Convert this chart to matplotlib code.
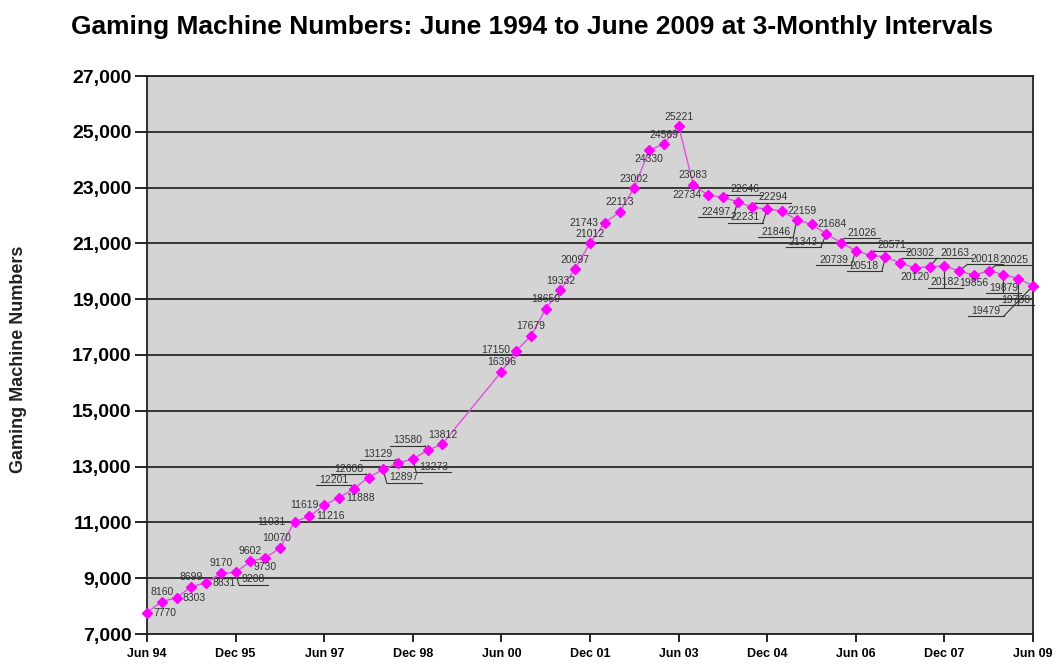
import numpy as np
import pandas as pd
import matplotlib
matplotlib.use('Agg')
import matplotlib.pyplot as plt
from matplotlib.ticker import FuncFormatter

plt.rcParams['font.family'] = ['Liberation Sans', 'DejaVu Sans']

# Quarterly gaming machine numbers, Jun 1994 - Jun 2009
# (Sep 99, Dec 99 and Mar 00 are not in the source chart)
quarters = pd.period_range('1994Q2', '2009Q2', freq='Q')
machines = [7770, 8160, 8303, 8699, 8831, 9170, 9208, 9602, 9730, 10070,
            11031, 11216, 11619, 11888, 12201, 12608, 12897, 13129, 13273, 13580,
            13812, None, None, None, 16396, 17150, 17679, 18650, 19332, 20097,
            21012, 21743, 22113, 23002, 24330, 24569, 25221, 23083, 22734, 22646,
            22497, 22294, 22231, 22159, 21846, 21684, 21343, 21026, 20739, 20571,
            20518, 20302, 20120, 20163, 20182, 20018, 19856, 20025, 19879, 19738,
            19479]

y_ticks = list(range(7000, 27001, 2000))

# label placement: text centre offset from the point in pixels (right, down),
# and whether Excel drew a leader line to it
label_pos = [(18, 0, 0), (0, -10, 0), (18, 0, 0), (0, -10, 0), (18, 0, 0),
             (0, -10, 0), (18, 7, 1), (0, -10, 0), (0, 9, 0), (-3, -10, 0),
             (-23, 0, 0), (21, 0, 0), (-20, 0, 0), (22, 0, 0), (-20, -9, 1),
             (-20, -9, 1), (21, 8, 1), (-20, -9, 1), (21, 8, 1), (-20, -10, 1),
             (0, -9, 0), None, None, None, (0, -10, 0),
             (-20, -1, 0), (0, -10, 0), (0, -10, 0), (0, -9, 0), (0, -9, 0),
             (0, -9, 0), (-21, 0, 0), (0, -10, 0), (0, -9, 0), (0, 9, 0),
             (0, -9, 0), (0, -9, 0), (0, -10, 0), (-21, 0, 0), (22, -8, 1),
             (-22, 10, 1), (21, -10, 1), (-22, 8, 1), (20, 0, 0), (-21, 12, 1),
             (20, 0, 0), (-23, 8, 1), (21, -10, 1), (-22, 9, 1), (21, -10, 1),
             (-21, 9, 1), (20, -10, 1), (0, 9, 0), (25, -14, 1), (1, 16, 1),
             (26, -12, 1), (0, 8, 0), (25, -11, 1), (0, 13, 1), (-2, 21, 1),
             (-47, 25, 1)]

fig = plt.figure(figsize=(10.56, 6.64), dpi=100)
ax = fig.add_axes([147 / 1056, 1 - 634 / 664, 886 / 1056, 558 / 664])
ax.set_facecolor('#d4d4d4')

xs = [i for i, v in enumerate(machines) if v is not None]
ys = [v for v in machines if v is not None]

ax.plot(xs, ys, color='#e050e0', lw=1.0, zorder=3, clip_on=False)
ax.plot(xs, ys, ls='none', marker='D', ms=5, color='#ff00ff', zorder=4, clip_on=False)

ax.set_xlim(0, len(quarters) - 1)
ax.set_ylim(7000, 27000)

tick_idx = list(range(0, len(quarters), 6))
ax.set_xticks(tick_idx)
ax.set_xticklabels([quarters[i].asfreq('M', 'end').strftime('%b %y') for i in tick_idx],
                   fontsize=9, fontweight='bold')
ax.set_yticks(y_ticks)
ax.yaxis.set_major_formatter(FuncFormatter(lambda v, p: f'{int(v):,}'))
for t in ax.get_yticklabels():
    t.set_fontsize(14)
    t.set_fontweight('bold')
ax.tick_params(axis='y', length=9, width=1.2, pad=2)
ax.tick_params(axis='x', length=6, width=1.2, pad=4)

ax.grid(axis='y', color='#2a2a2a', lw=1.3)
ax.set_axisbelow(True)
for s in ax.spines.values():
    s.set_color('#222222')
    s.set_linewidth(1.3)

fig.text(532 / 1056, 1 - 27 / 664, 'Gaming Machine Numbers: June 1994 to June 2009 at 3-Monthly Intervals',
         ha='center', va='center', fontsize=19, fontweight='bold')
fig.text(19 / 1056, 1 - 359 / 664, 'Gaming Machine Numbers', rotation=90,
         ha='center', va='center', fontsize=13, fontweight='bold', color='#222222')

# data labels
fig.canvas.draw()
renderer = fig.canvas.get_renderer()
inv = ax.transData.inverted()
for i, v in enumerate(machines):
    if v is None:
        continue
    dx, dy, leader = label_pos[i]
    px, py = ax.transData.transform((i, v))
    cx, cy = inv.transform((px + dx, py - dy))
    t = ax.text(cx, cy, str(v), ha='center', va='center', fontsize=7.5,
                color='#333333', zorder=5, clip_on=False)
    if leader:
        bb = t.get_window_extent(renderer)
        ux0, ux1, uy = bb.x0 - 3, bb.x1 + 3, bb.y0 - 0.5
        lx = min(max(px, ux0), ux1)
        a = inv.transform((ux0, uy))
        b = inv.transform((ux1, uy))
        c = inv.transform((lx, uy))
        ax.plot([a[0], b[0]], [a[1], b[1]], color='#333333', lw=0.8, zorder=2, clip_on=False)
        ax.plot([c[0], i], [c[1], v], color='#333333', lw=0.8, zorder=2, clip_on=False)

fig.savefig('out.png', dpi=100)
